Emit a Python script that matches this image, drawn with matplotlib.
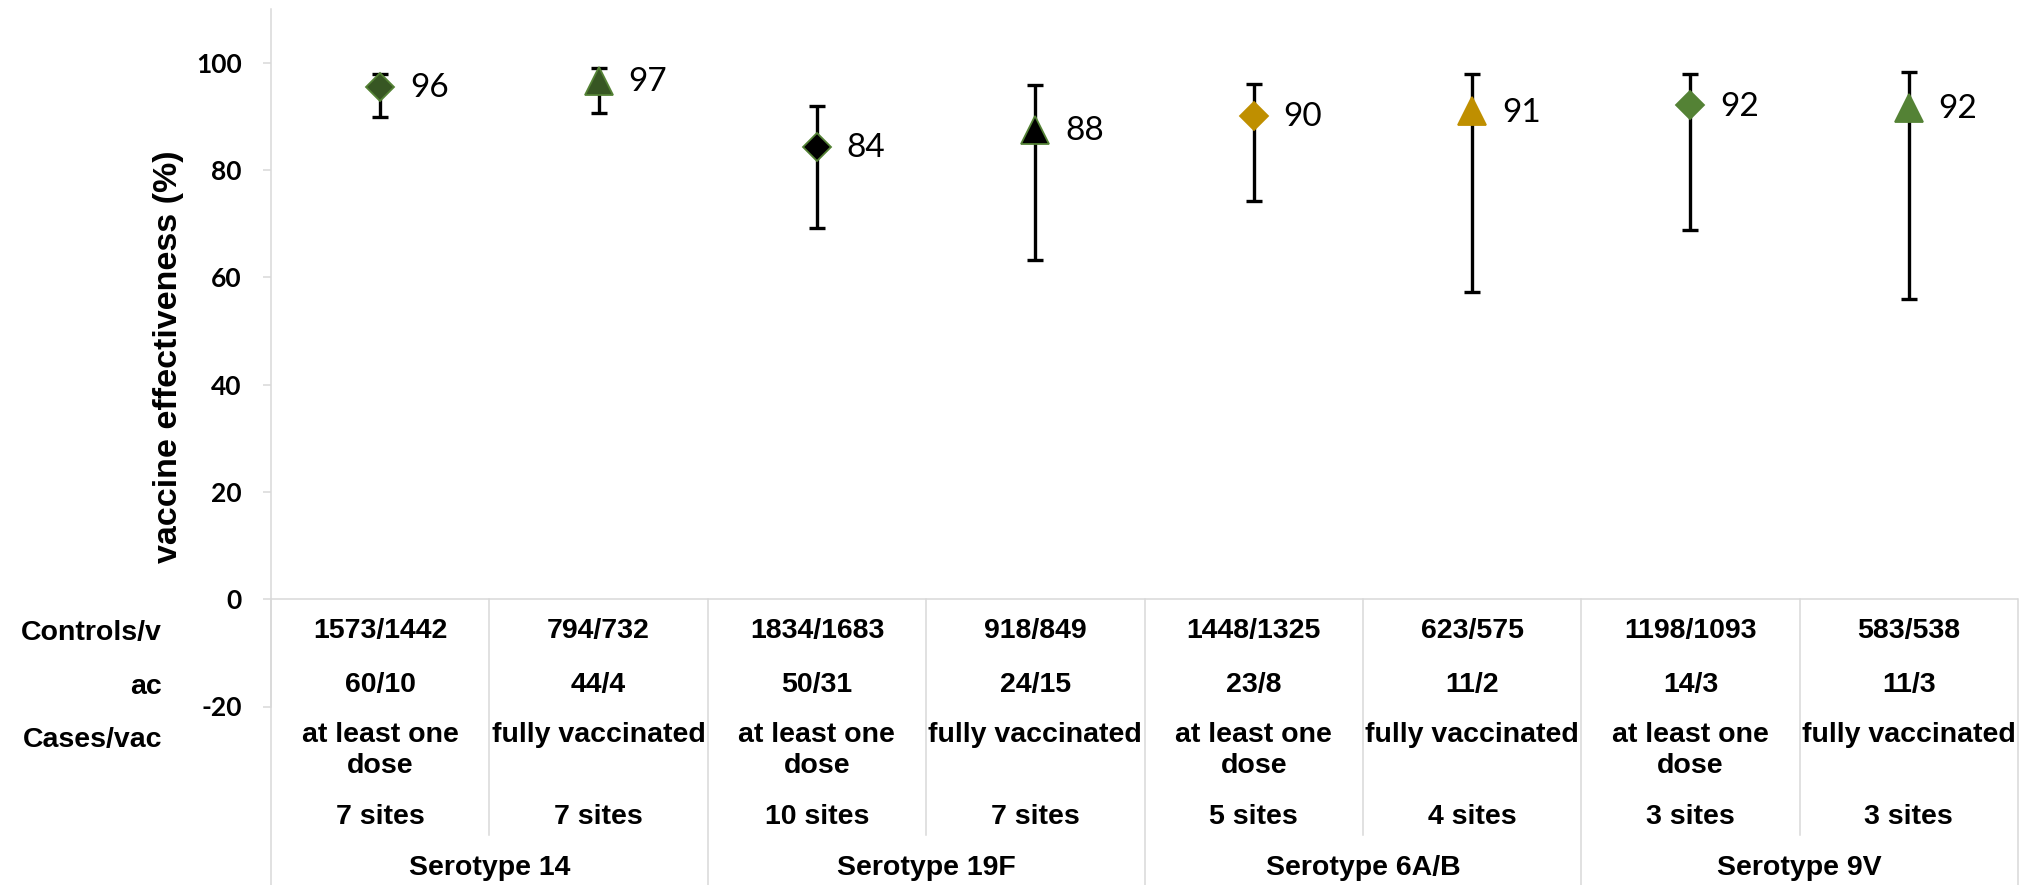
import matplotlib.pyplot as plt
from matplotlib.transforms import blended_transform_factory

plt.rcParams["axes.unicode_minus"] = False

# point estimates (%) with 95% CI
ve = [95.5, 96.7, 84.4, 87.5, 90.1, 91.0, 92.1, 91.6]
ve_labels = ["96", "97", "84", "88", "90", "91", "92", "92"]
ci_low = [89.9, 90.6, 69.2, 63.2, 74.3, 57.2, 68.9, 56.0]
ci_high = [98.0, 99.0, 91.9, 95.8, 96.0, 98.0, 98.0, 98.3]

# table rows under the plot
controls = ["1573/1442", "794/732", "1834/1683", "918/849",
            "1448/1325", "623/575", "1198/1093", "583/538"]
cases = ["60/10", "44/4", "50/31", "24/15", "23/8", "11/2", "14/3", "11/3"]
dose = ["at least one\ndose", "fully vaccinated"] * 4
sites = ["7 sites", "7 sites", "10 sites", "7 sites",
         "5 sites", "4 sites", "3 sites", "3 sites"]
serotypes = ["Serotype 14", "Serotype 19F", "Serotype 6A/B", "Serotype 9V"]
row_names = ["Controls/v", "ac", "Cases/vac"]

markers = ["D", "^"] * 4
face = ["#375623", "#375623", "#000000", "#000000",
        "#BF8F00", "#BF8F00", "#548235", "#548235"]
edge = ["#548235", "#548235", "#548235", "#548235",
        "#BF8F00", "#BF8F00", "#548235", "#548235"]

W, H = 2039, 885
fig = plt.figure(figsize=(W / 100, H / 100), dpi=100)
ax = fig.add_axes([271 / W, 1 - 706.5 / H, (2018 - 271) / W, (706.5 - 9.3) / H])

grey = "#d9d9d9"
x = list(range(len(ve)))

# error bars then markers on top
yerr = [[v - lo for v, lo in zip(ve, ci_low)], [hi - v for v, hi in zip(ve, ci_high)]]
ax.errorbar(x, ve, yerr=yerr, fmt="none", ecolor="black", elinewidth=2.4,
            capsize=6, capthick=2.4, zorder=2)
for i in x:
    ms = 14.5 if markers[i] == "D" else 20.5
    ax.plot(x[i], ve[i], marker=markers[i], ms=ms, mfc=face[i], mec=edge[i],
            mew=1.3, ls="none", zorder=3)
    ax.annotate(ve_labels[i], (x[i], ve[i]), xytext=(21.5, -1), textcoords="offset points",
                ha="left", va="center", fontsize=24, family="Lato")

ax.set_xlim(-0.5, len(ve) - 0.5)
ax.set_ylim(-20, 110)
ax.set_yticks(range(-20, 101, 20))
ax.tick_params(axis="y", length=6, width=1.1, color=grey, pad=15)
for lab in ax.get_yticklabels():
    lab.set_fontfamily("Lato")
    lab.set_fontweight("bold")
    lab.set_fontsize(19)
ax.set_xticks([])
for s in ["top", "right", "bottom"]:
    ax.spines[s].set_visible(False)
ax.spines["left"].set_color(grey)
ax.spines["left"].set_linewidth(1.1)
ax.axhline(0, color=grey, lw=1.1, zorder=1)

fig.text(168 / W, 1 - 357 / H, "vaccine effectiveness (%)", rotation=90,
         ha="center", va="center", fontsize=24.5, fontweight="bold",
         family="Liberation Sans")

# category table below the axis
tr = blended_transform_factory(ax.transData, fig.transFigure)
for b in [-0.5, 1.5, 3.5, 5.5, 7.5]:
    ax.plot([b, b], [1 - 599 / H, 0], color=grey, lw=1.1, transform=tr, clip_on=False)
for b in [0.5, 2.5, 4.5, 6.5]:
    ax.plot([b, b], [1 - 599 / H, 1 - 835 / H], color=grey, lw=1.1, transform=tr, clip_on=False)

tkw = dict(ha="center", va="center", fontsize=20.5, fontweight="bold",
           family="Liberation Sans", transform=tr)
for i in x:
    ax.text(i, 1 - 631 / H, controls[i], **tkw)
    ax.text(i, 1 - 685 / H, cases[i], **tkw)
    for k, line in enumerate(dose[i].split("\n")):
        ax.text(i, 1 - (735 + 31 * k) / H, line, **tkw)
    ax.text(i, 1 - 817 / H, sites[i], **tkw)
for g, name in enumerate(serotypes):
    ax.text(2 * g + 0.5, 1 - 868 / H, name, **tkw)

for r, name in zip([633, 687, 740], row_names):
    fig.text(162 / W, 1 - r / H, name, ha="right", va="center", fontsize=20.5,
             fontweight="bold", family="Liberation Sans")

fig.savefig("out.png", dpi=100)
